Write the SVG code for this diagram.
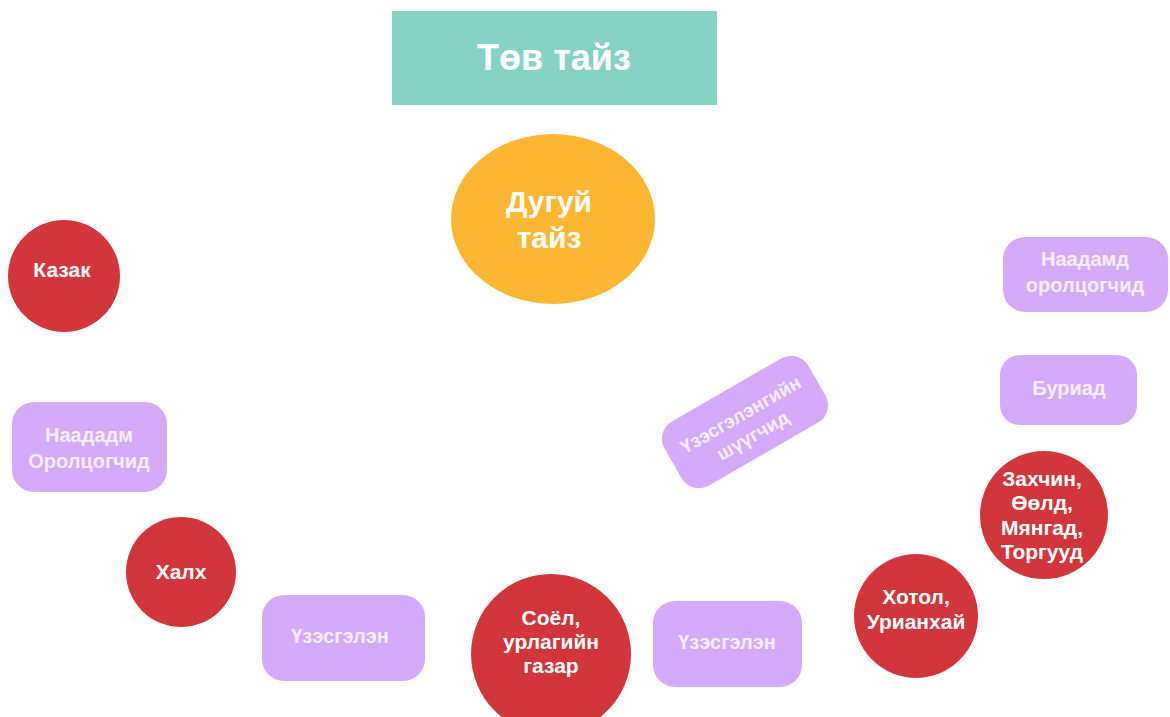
<svg xmlns="http://www.w3.org/2000/svg" width="1170" height="717" viewBox="0 0 1170 717">
<style>
text{font-family:"Liberation Sans",Arial,sans-serif;font-weight:bold;text-anchor:middle}
.red{fill:#d1363a}
.pur{fill:#d4aafb}
.rt{fill:#ffffff;font-size:21px}
.pt{fill:#f6efff;font-size:20px}
</style>
<rect width="1170" height="717" fill="#ffffff"/>
<g id="connectors"></g>
<g id="tov-taiz">
<rect x="392" y="11" width="325" height="94" fill="#86d3c6"/>
<text x="554" y="70" style="font-size:36px;fill:#fff">Төв тайз</text>
</g>
<g id="dugui-taiz">
<ellipse cx="553" cy="219" rx="102" ry="85" fill="#fbb733"/>
<text x="549" y="212" style="font-size:30px;fill:#fff">Дугуй</text>
<text x="549" y="248" style="font-size:30px;fill:#fff">тайз</text>
</g>
<g id="kazak">
<circle cx="64" cy="276" r="56" class="red"/>
<text x="62" y="277" class="rt">Казак</text>
</g>
<g id="naadadm-left">
<rect x="12" y="402" width="155" height="90" rx="22" class="pur"/>
<text x="89" y="442" class="pt">Наададм</text>
<text x="89" y="468" class="pt">Оролцогчид</text>
</g>
<g id="khalkh">
<circle cx="181" cy="572" r="55" class="red"/>
<text x="181" y="579" class="rt">Халх</text>
</g>
<g id="uzesgelen-left">
<rect x="262" y="595" width="163" height="86" rx="22" class="pur"/>
<text x="340" y="643" class="pt">Үзэсгэлэн</text>
</g>
<g id="soyol">
<circle cx="551" cy="654" r="80" class="red"/>
<text x="551" y="625" class="rt">Соёл,</text>
<text x="551" y="649" class="rt">урлагийн</text>
<text x="551" y="673" class="rt">газар</text>
</g>
<g id="uzesgelen-right">
<rect x="653" y="601" width="149" height="86" rx="22" class="pur"/>
<text x="727" y="649" class="pt">Үзэсгэлэн</text>
</g>
<g id="judges">
<g transform="translate(745,422) rotate(-30)">
<rect x="-83" y="-37" width="166" height="74" rx="20" class="pur"/>
<text x="0" y="-2" class="pt" style="font-size:19px">Үзэсгэлэнгийн</text>
<text x="0" y="22" class="pt" style="font-size:19px">шүүгчид</text>
</g>
</g>
<g id="khotol">
<circle cx="916" cy="616" r="62" class="red"/>
<text x="916" y="604" class="rt">Хотол,</text>
<text x="916" y="629" class="rt">Урианхай</text>
</g>
<g id="zakhchin">
<circle cx="1044" cy="515" r="64" class="red"/>
<text x="1042" y="486" class="rt">Захчин,</text>
<text x="1042" y="510" class="rt">Өөлд,</text>
<text x="1042" y="535" class="rt">Мянгад,</text>
<text x="1042" y="559" class="rt">Торгууд</text>
</g>
<g id="buriad">
<rect x="1000" y="355" width="137" height="70" rx="20" class="pur"/>
<text x="1069" y="395" class="pt">Буриад</text>
</g>
<g id="naadamd-right">
<rect x="1003" y="237" width="165" height="75" rx="22" class="pur"/>
<text x="1085" y="266" class="pt">Наадамд</text>
<text x="1085" y="292" class="pt">оролцогчид</text>
</g>
</svg>
